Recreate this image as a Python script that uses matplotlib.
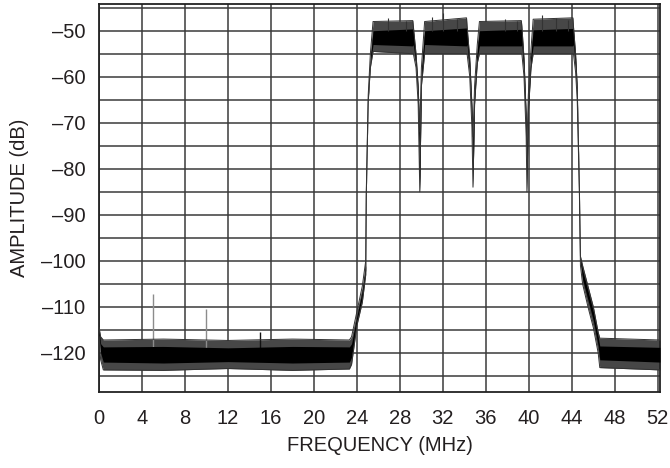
"""Spectrum of a four-carrier signal: amplitude vs frequency."""

import matplotlib
matplotlib.use("Agg")
import matplotlib.pyplot as plt
from matplotlib.ticker import MultipleLocator

# Trace envelope breakpoints (MHz, dB).
# outer = extreme spikes of the noisy trace, core = dense part of it
freq = [0.0, 0.15, 0.4, 6.0, 12.0, 18.0, 23.3, 23.5, 24.0, 24.5, 24.82, 24.87,
        25.05, 25.25, 25.5, 29.2, 29.25, 29.5, 29.7, 29.85, 30.0, 30.3,
        34.2, 34.25, 34.5, 34.7, 34.8, 34.95, 35.2, 35.4,
        39.3, 39.35, 39.55, 39.75, 39.82, 39.95, 40.2, 40.4,
        44.1, 44.15, 44.35, 44.5, 44.7, 44.8, 45.0, 45.5, 46.0, 46.45, 46.6, 52.2]
outer_hi = [-114.5, -116.5, -117.2, -117.0, -117.3, -117.0, -117.2, -116.5, -111.0, -105.5, -100.0, -85.0,
            -64.0, -55.0, -48.0, -47.8, -49.0, -55.0, -62.0, -72.0, -58.0, -48.0,
            -47.2, -49.0, -56.0, -66.0, -73.0, -62.0, -53.0, -48.0,
            -47.8, -49.0, -56.0, -68.0, -75.0, -64.0, -54.0, -47.5,
            -47.2, -49.0, -55.0, -62.0, -84.0, -99.0, -101.0, -105.5, -110.0, -115.5, -116.8, -117.2]
core_hi = [-115.0, -118.0, -118.7, -118.6, -118.9, -118.6, -118.7, -118.0, -112.0, -106.5, -101.0, -85.5,
           -64.5, -56.0, -50.0, -49.6, -50.0, -56.0, -63.0, -73.0, -59.0, -50.0,
           -49.4, -50.0, -57.0, -67.0, -74.0, -63.0, -54.0, -50.0,
           -49.7, -50.0, -57.0, -69.0, -76.0, -65.0, -55.0, -49.8,
           -49.5, -50.0, -56.0, -63.0, -84.5, -99.5, -102.0, -106.5, -111.0, -116.5, -118.5, -118.8]
core_lo = [-116.0, -120.0, -122.0, -122.2, -121.9, -122.2, -122.0, -121.0, -113.0, -108.0, -102.0, -86.0,
           -65.0, -57.0, -53.0, -53.3, -53.0, -57.5, -65.0, -85.0, -61.0, -53.0,
           -53.3, -53.0, -59.0, -70.0, -84.0, -65.0, -56.0, -53.3,
           -53.3, -53.0, -59.0, -72.0, -85.0, -67.0, -57.0, -53.3,
           -53.3, -53.0, -58.0, -64.0, -85.0, -100.0, -104.0, -108.5, -113.0, -118.5, -121.5, -122.0]
outer_lo = [-116.5, -121.5, -123.7, -123.8, -123.4, -123.8, -123.5, -122.5, -114.0, -109.0, -103.0, -86.0,
            -65.5, -58.0, -54.5, -55.0, -55.0, -58.0, -66.0, -85.0, -62.0, -55.0,
            -55.0, -55.0, -60.0, -71.0, -84.0, -66.0, -57.0, -55.0,
            -55.0, -55.0, -60.0, -73.0, -85.0, -68.0, -58.0, -55.0,
            -55.0, -55.0, -59.0, -65.0, -85.0, -101.0, -105.0, -110.0, -114.5, -120.0, -123.2, -123.7]

# Spurs in the noise floor
spur_freq = [5.0, 10.0, 15.0]
spur_top = [-107.3, -110.4, -115.5]
spur_color = ["#8c8c8c", "#8c8c8c", "#111111"]

# Tallest spikes on the carrier tops
peak_freq = [26.9, 28.6, 31.0, 32.0, 33.3, 37.8, 38.9, 41.2, 42.5, 43.6]
peak_top = [-47.3, -47.8, -47.0, -46.2, -47.4, -47.5, -47.9, -46.5, -47.3, -47.6]

x_ticks = list(range(0, 53, 4))
y_ticks = list(range(-120, -49, 10))
y_labels = ["\u2013" + str(-v) for v in y_ticks]

plt.rcParams["font.family"] = ["Liberation Sans", "DejaVu Sans"]

fig = plt.figure(figsize=(6.7, 4.68), dpi=100)
ax = fig.add_axes([0.1478, 0.1624, 0.8372, 0.829])

ax.fill_between(freq, outer_lo, outer_hi, color="#474747", lw=0, zorder=2)
ax.fill_between(freq, core_lo, core_hi, color="black", lw=0, zorder=3)
ax.plot(freq, outer_hi, color="#333333", lw=0.7, zorder=3)
ax.plot(freq, outer_lo, color="#333333", lw=0.7, zorder=3)
for f, top, c in zip(spur_freq, spur_top, spur_color):
    ax.vlines(f, -119.5, top, color=c, lw=1.0, zorder=2)
ax.vlines(peak_freq, -50.0, peak_top, color="#333333", lw=0.8, zorder=3)

ax.set_xlim(0, 52.2)
ax.set_ylim(-128.5, -44.2)
ax.set_xticks(x_ticks)
ax.set_xticklabels([str(v) for v in x_ticks])
ax.set_yticks(y_ticks)
ax.set_yticklabels(y_labels)
ax.yaxis.set_minor_locator(MultipleLocator(5))
ax.set_axisbelow(True)
ax.grid(True, which="both", color="#3a3a3a", lw=1.1)
ax.tick_params(which="both", length=0, labelsize=14.5, colors="#231f20")
ax.tick_params(axis="x", pad=12)
ax.tick_params(axis="y", pad=10)
for sp in ax.spines.values():
    sp.set_color("#222222")
    sp.set_linewidth(1.3)

ax.set_xlabel("FREQUENCY (MHz)", fontsize=14.5, color="#231f20", labelpad=6)
ax.set_ylabel("AMPLITUDE (dB)", fontsize=14.5, color="#231f20", labelpad=8)

fig.savefig("out.png", dpi=100)
